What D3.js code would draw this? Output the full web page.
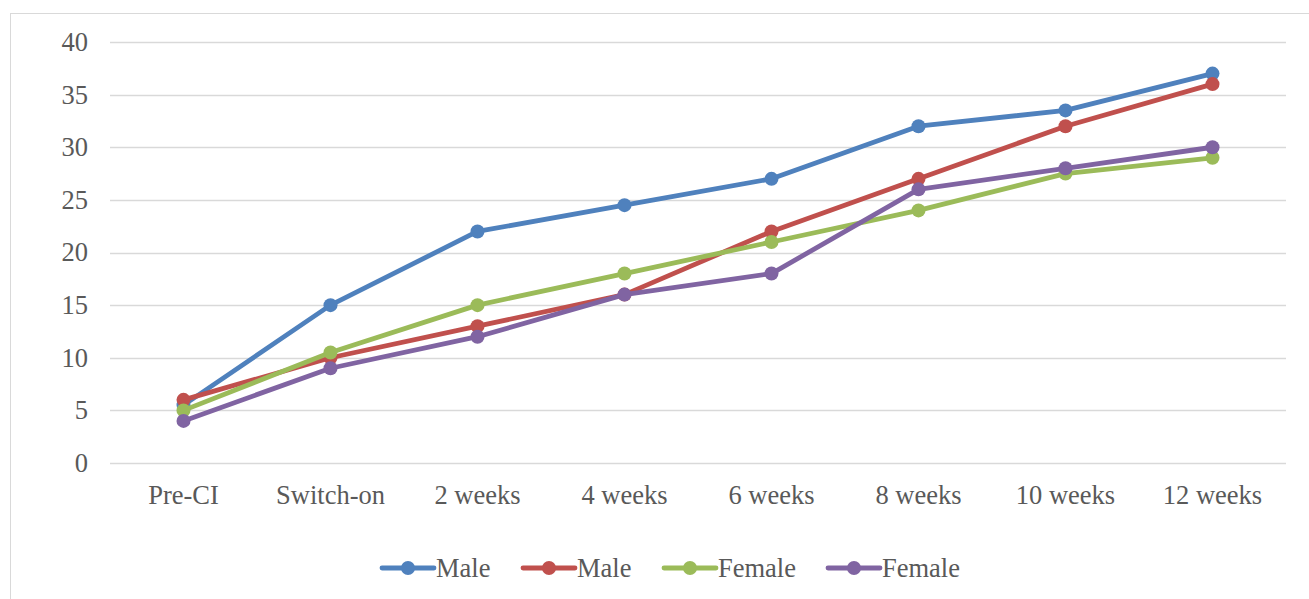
<!DOCTYPE html>
<html>
<head>
<meta charset="utf-8">
<script src="https://cdn.jsdelivr.net/npm/d3@7"></script>
<style>
  html, body { margin: 0; padding: 0; background: #fff; }
  svg { display: block; }
</style>
</head>
<body>
<svg id="chart" width="1309" height="599"></svg>
<script>
// Progress scores from pre-implant to 12 weeks
const categories = ["Pre-CI", "Switch-on", "2 weeks", "4 weeks", "6 weeks", "8 weeks", "10 weeks", "12 weeks"];
const seriesNames = ["Male", "Male", "Female", "Female"];
const seriesColors = ["#4F81BD", "#C0504D", "#9BBB59", "#8064A2"];
const male1 = [5.5, 15, 22, 24.5, 27, 32, 33.5, 37];
const male2 = [6, 10, 13, 16, 22, 27, 32, 36];
const female1 = [5, 10.5, 15, 18, 21, 24, 27.5, 29];
const female2 = [4, 9, 12, 16, 18, 26, 28, 30];
const yTicks = [0, 5, 10, 15, 20, 25, 30, 35, 40];

const seriesValues = [male1, male2, female1, female2];
const series = seriesNames.map((name, i) => ({ name, color: seriesColors[i], values: seriesValues[i] }));

const svg = d3.select("#chart");
const font = "'Liberation Serif', 'Times New Roman', serif";
const fontSize = 26.5;
const textColor = "#595959";

// Outer chart frame
svg.append("rect")
  .attr("x", 10.5).attr("y", 13.5)
  .attr("width", 1310).attr("height", 600)
  .attr("fill", "none").attr("stroke", "#d9d9d9").attr("stroke-width", 1);

const x = d3.scaleBand().domain(categories).range([110, 1286]);
const y = d3.scaleLinear().domain([0, 40]).range([463, 42]);

// Horizontal gridlines
svg.append("g")
  .selectAll("line")
  .data(yTicks)
  .join("line")
  .attr("x1", 110).attr("x2", 1286)
  .attr("y1", d => Math.round(y(d)) + 0.5).attr("y2", d => Math.round(y(d)) + 0.5)
  .attr("stroke", "#d9d9d9").attr("stroke-width", 1.3);

// Y axis labels
const yAxis = d3.axisLeft(y).tickValues(yTicks).tickSize(0).tickPadding(0);
const gy = svg.append("g").attr("transform", "translate(88,0)").call(yAxis);
gy.select(".domain").remove();
gy.selectAll("text")
  .attr("font-family", font).attr("font-size", fontSize).attr("fill", textColor);

// X axis labels
const xAxis = d3.axisBottom(x).tickSize(0).tickPadding(0);
const gx = svg.append("g").attr("transform", "translate(0,485)").call(xAxis);
gx.select(".domain").remove();
gx.selectAll("text")
  .attr("font-family", font).attr("font-size", fontSize).attr("fill", textColor);

const cx = c => x(c) + x.bandwidth() / 2;
const line = d3.line().x((d, i) => cx(categories[i])).y(d => y(d));

const g = svg.append("g");
series.forEach(s => {
  g.append("path")
    .datum(s.values)
    .attr("d", line)
    .attr("fill", "none")
    .attr("stroke", s.color)
    .attr("stroke-width", 4.8)
    .attr("stroke-linejoin", "round")
    .attr("stroke-linecap", "round");
  g.selectAll(null)
    .data(s.values)
    .join("circle")
    .attr("cx", (d, i) => cx(categories[i]))
    .attr("cy", d => y(d))
    .attr("r", 7)
    .attr("fill", s.color);
});

// Legend
const legendX = [380, 521, 662, 826];
const legendY = 568;
const lg = svg.append("g");
series.forEach((s, i) => {
  const gi = lg.append("g").attr("transform", `translate(${legendX[i]},${legendY})`);
  gi.append("line").attr("x1", 2).attr("x2", 54).attr("y1", 0).attr("y2", 0)
    .attr("stroke", s.color).attr("stroke-width", 4.8).attr("stroke-linecap", "round");
  gi.append("circle").attr("cx", 28).attr("cy", 0).attr("r", 7).attr("fill", s.color);
  gi.append("text").attr("x", 56).attr("y", 0).attr("dy", "0.35em")
    .attr("font-family", font).attr("font-size", fontSize).attr("fill", textColor)
    .text(s.name);
});
</script>
</body>
</html>
